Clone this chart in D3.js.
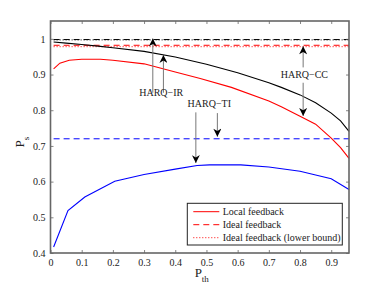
<!DOCTYPE html>
<html>
<head>
<meta charset="utf-8">
<script src="https://cdn.jsdelivr.net/npm/d3@7"></script>
<style>
  body { margin: 0; background: #fff; }
  text { font-family: "Liberation Serif", "DejaVu Serif", serif; }
</style>
</head>
<body>
<div id="chart-container"></div>
<script>
var W = 385, H = 285;
var margin = {top: 21, right: 36, bottom: 32, left: 50.5};
var width = W - margin.left - margin.right,
    height = H - margin.top - margin.bottom;

// data
var xTicks = [0, 0.1, 0.2, 0.3, 0.4, 0.5, 0.6, 0.7, 0.8, 0.9];
var yTicks = [0.4, 0.5, 0.6, 0.7, 0.8, 0.9, 1];

var ccLocal = [[0.01,0.991],[0.05,0.988],[0.1,0.984],[0.16,0.979],[0.2,0.975],[0.3,0.965],[0.4,0.949],
  [0.5,0.929],[0.6,0.905],[0.7,0.877],[0.74,0.864],[0.8,0.843],[0.85,0.821],[0.9,0.792],[0.93,0.77],[0.957,0.741]];
var irLocal = [[0.01,0.916],[0.03,0.932],[0.06,0.94],[0.1,0.943],[0.16,0.943],[0.2,0.94],[0.3,0.93],
  [0.4,0.907],[0.48,0.889],[0.58,0.864],[0.7,0.826],[0.74,0.81],[0.8,0.783],[0.85,0.761],[0.9,0.722],[0.93,0.695],[0.957,0.665]];
var tiLocal = [[0.01,0.417],[0.056,0.519],[0.11,0.557],[0.206,0.601],[0.3,0.62],[0.4,0.635],[0.47,0.645],
  [0.51,0.647],[0.61,0.647],[0.7,0.641],[0.8,0.629],[0.9,0.608],[0.957,0.578]];

var xRange = [0.01, 0.957];
var ccIdeal = 0.998, ccBound = 0.997;
var irIdeal = 0.982, irBound = 0.978;
var tiIdeal = 0.72, tiBound = 0.72;

// annotations, in data units
var labels = [
  {text: "HARQ\u2212IR", x: 0.355, y: 0.84},
  {text: "HARQ\u2212TI", x: 0.509, y: 0.809},
  {text: "HARQ\u2212CC", x: 0.814, y: 0.89}
];
var arrows = [
  {x: 0.328, from: 0.849, to: 1.001},
  {x: 0.362, from: 0.849, to: 0.955},
  {x: 0.466, from: 0.794, to: 0.652},
  {x: 0.535, from: 0.792, to: 0.726},
  {x: 0.81, from: 0.92, to: 0.979},
  {x: 0.81, from: 0.877, to: 0.784}
];
var legendItems = ["Local feedback", "Ideal feedback", "Ideal feedback (lower bound)"];
var legendDash = [null, "6,4", "1,2"];

var svg = d3.select("#chart-container")
    .append("svg")
    .attr("width", W)
    .attr("height", H)
    .append("g")
    .attr("transform", "translate(" + margin.left + "," + margin.top + ")");

var x = d3.scaleLinear().domain([0, 0.957]).range([0, width]);
var y = d3.scaleLinear().domain([0.4, 1.05]).range([height, 0]);

var line = d3.line()
    .x(function(d) { return x(d[0]); })
    .y(function(d) { return y(d[1]); });

// horizontal reference lines
function hline(v, color, dash) {
    svg.append("path")
        .datum([[xRange[0], v], [xRange[1], v]])
        .attr("fill", "none")
        .attr("stroke", color)
        .attr("stroke-width", 1)
        .attr("stroke-dasharray", dash)
        .attr("d", line);
}
hline(ccIdeal, "#000", "6,4");
hline(ccBound, "#000", "1,2");
hline(irIdeal, "#f00", "6,4");
hline(irBound, "#f00", "1,2");
hline(tiIdeal, "#00f", "6,4");

// curves
[[ccLocal, "#000"], [irLocal, "#f00"], [tiLocal, "#00f"]].forEach(function(s) {
    svg.append("path")
        .datum(s[0])
        .attr("fill", "none")
        .attr("stroke", s[1])
        .attr("stroke-width", 1.1)
        .attr("d", line);
});

// axes box with inward ticks
var axisColor = "#666";
function styleAxis(g) {
    g.select(".domain").remove();
    g.selectAll(".tick line").attr("stroke", axisColor).attr("stroke-width", 0.8);
    g.selectAll(".tick text").attr("fill", "#222").style("font-size", "10px")
        .style("font-family", "'Liberation Serif', serif");
}
svg.append("g")
    .attr("transform", "translate(0," + height + ")")
    .call(d3.axisBottom(x).tickValues(xTicks).tickSize(-3).tickPadding(6)
        .tickFormat(function(d) { return d === 0 ? "0" : d3.format(".1f")(d); }))
    .call(styleAxis);
svg.append("g")
    .call(d3.axisTop(x).tickValues(xTicks).tickSize(-3).tickFormat(""))
    .call(styleAxis);
svg.append("g")
    .call(d3.axisLeft(y).tickValues(yTicks).tickSize(-3).tickPadding(5)
        .tickFormat(function(d) { return d === 1 ? "1" : d3.format(".1f")(d); }))
    .call(styleAxis);
svg.append("g")
    .attr("transform", "translate(" + width + ",0)")
    .call(d3.axisRight(y).tickValues(yTicks).tickSize(-3).tickFormat(""))
    .call(styleAxis);
svg.append("rect")
    .attr("width", width).attr("height", height)
    .attr("fill", "none").attr("stroke", axisColor).attr("stroke-width", 1.6);

// axis titles
var xt = svg.append("text")
    .attr("x", width / 2 + 2).attr("y", height + 24)
    .attr("text-anchor", "middle")
    .style("font-size", "13px").attr("fill", "#222");
xt.append("tspan").text("P");
xt.append("tspan").attr("dy", 5).style("font-size", "9px").text("th");

var yt = svg.append("text")
    .attr("transform", "translate(-27," + (height / 2 + 5) + ") rotate(-90)")
    .attr("text-anchor", "middle")
    .style("font-size", "13px").attr("fill", "#222");
yt.append("tspan").text("P");
yt.append("tspan").attr("dy", 5).style("font-size", "9px").text("s");

// annotation arrows
var defs = svg.append("defs");
defs.append("marker")
    .attr("id", "head")
    .attr("viewBox", "0 0 10 10")
    .attr("refX", 10).attr("refY", 5)
    .attr("markerWidth", 10).attr("markerHeight", 8)
    .attr("markerUnits", "userSpaceOnUse")
    .attr("orient", "auto")
    .append("path")
    .attr("d", "M0,0 L10,5 L0,10 L3,5 Z")
    .attr("fill", "#000");

svg.selectAll(".arrow")
    .data(arrows)
    .enter().append("line")
    .attr("class", "arrow")
    .attr("x1", function(d) { return x(d.x); })
    .attr("x2", function(d) { return x(d.x); })
    .attr("y1", function(d) { return y(d.from); })
    .attr("y2", function(d) { return y(d.to); })
    .attr("stroke", "#777")
    .attr("stroke-width", 1)
    .attr("marker-end", "url(#head)");

svg.selectAll(".lab")
    .data(labels)
    .enter().append("text")
    .attr("class", "lab")
    .attr("x", function(d) { return x(d.x); })
    .attr("y", function(d) { return y(d.y); })
    .attr("text-anchor", "middle")
    .style("font-size", "10px")
    .attr("fill", "#222")
    .text(function(d) { return d.text; });

// legend
var lg = svg.append("g").attr("transform", "translate(" + (187.3 - margin.left) + "," + (203.3 - margin.top) + ")");
lg.append("rect")
    .attr("width", 155).attr("height", 41.7)
    .attr("fill", "#fff").attr("stroke", "#222").attr("stroke-width", 1);
legendItems.forEach(function(t, i) {
    var yy = 8.4 + i * 13;
    lg.append("line")
        .attr("x1", 6).attr("x2", 32).attr("y1", yy).attr("y2", yy)
        .attr("stroke", "#f00").attr("stroke-width", 1)
        .attr("stroke-dasharray", legendDash[i]);
    lg.append("text")
        .attr("x", 35.4).attr("y", yy + 3.5)
        .style("font-size", "10px").attr("fill", "#222")
        .text(t);
});
</script>
</body>
</html>
